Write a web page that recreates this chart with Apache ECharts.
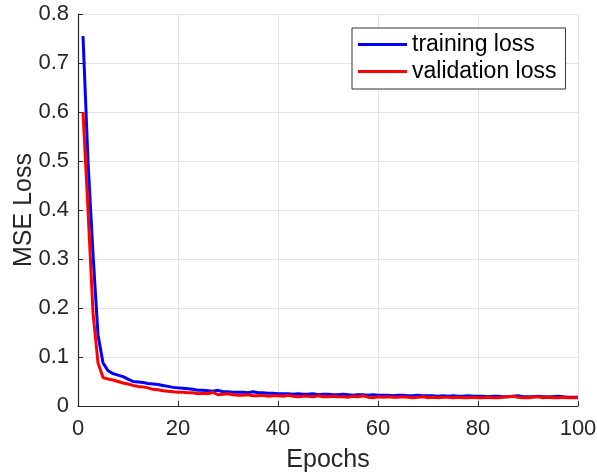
<!DOCTYPE html>
<html>
<head>
<meta charset="utf-8">
<script src="https://cdn.jsdelivr.net/npm/echarts@6/dist/echarts.min.js"></script>
<style>
  html, body { margin: 0; padding: 0; background: #fff; }
  #chart { width: 597px; height: 474px; }
</style>
</head>
<body>
<div id="chart"></div>
<script>
// values, one per epoch (1..100)
var trainLoss = [
  0.755, 0.50, 0.31, 0.145, 0.088, 0.072, 0.066, 0.063, 0.060, 0.055,
  0.050, 0.049, 0.048, 0.046, 0.045, 0.044, 0.042, 0.040, 0.038, 0.037,
  0.036, 0.035, 0.034, 0.032, 0.032, 0.031, 0.030, 0.032, 0.029, 0.029,
  0.028, 0.028, 0.028, 0.027, 0.029, 0.027, 0.027, 0.026, 0.026, 0.025,
  0.025, 0.025, 0.024, 0.025, 0.024, 0.024, 0.025, 0.023, 0.024, 0.024,
  0.023, 0.023, 0.024, 0.023, 0.022, 0.023, 0.023, 0.022, 0.023, 0.022,
  0.022, 0.022, 0.021, 0.022, 0.022, 0.021, 0.021, 0.022, 0.021, 0.021,
  0.021, 0.020, 0.021, 0.020, 0.021, 0.020, 0.020, 0.021, 0.020, 0.020,
  0.020, 0.019, 0.020, 0.020, 0.019, 0.019, 0.020, 0.021, 0.019, 0.019,
  0.019, 0.020, 0.019, 0.019, 0.019, 0.020, 0.019, 0.018, 0.018, 0.018
];
var valLoss = [
  0.60, 0.40, 0.19, 0.088, 0.058, 0.055, 0.053, 0.050, 0.047, 0.045,
  0.042, 0.040, 0.039, 0.037, 0.034, 0.033, 0.031, 0.030, 0.029, 0.028,
  0.028, 0.027, 0.027, 0.025, 0.026, 0.025, 0.028, 0.023, 0.024, 0.025,
  0.023, 0.022, 0.022, 0.023, 0.021, 0.021, 0.022, 0.020, 0.021, 0.021,
  0.020, 0.022, 0.020, 0.019, 0.020, 0.020, 0.019, 0.021, 0.019, 0.019,
  0.020, 0.019, 0.019, 0.018, 0.020, 0.019, 0.021, 0.018, 0.017, 0.019,
  0.018, 0.019, 0.018, 0.018, 0.019, 0.018, 0.017, 0.018, 0.019, 0.017,
  0.018, 0.017, 0.018, 0.018, 0.017, 0.018, 0.017, 0.017, 0.018, 0.017,
  0.017, 0.018, 0.017, 0.017, 0.018, 0.019, 0.020, 0.018, 0.017, 0.017,
  0.018, 0.019, 0.017, 0.018, 0.017, 0.017, 0.018, 0.017, 0.017, 0.017
];
var seriesNames = ['training loss', 'validation loss'];

function toPairs(arr) {
  var out = [];
  for (var i = 0; i < arr.length; i++) {
    out.push([i + 1, arr[i]]);
  }
  return out;
}

var txt = '#262626';
var font = 'Liberation Sans, Arial, Helvetica, sans-serif';

var chart = echarts.init(document.getElementById('chart'));

var option = {
  backgroundColor: '#fff',
  animation: false,
  textStyle: { fontFamily: font },
  grid: { left: 78, right: 19, top: 14, bottom: 68, containLabel: false, outerBoundsMode: 'none' },
  legend: {
    orient: 'vertical',
    left: 352,
    top: 28,
    padding: [5, 9, 6, 6],
    itemGap: 4,
    itemWidth: 49,
    itemHeight: 3,
    icon: 'rect',
    borderColor: '#333',
    borderWidth: 1,
    backgroundColor: '#fff',
    textStyle: { fontSize: 23, color: '#000', fontFamily: font },
    data: seriesNames
  },
  xAxis: {
    type: 'value',
    min: 0,
    max: 100,
    interval: 20,
    name: 'Epochs',
    nameLocation: 'middle',
    nameGap: 42,
    nameMoveOverlap: false,
    nameTextStyle: { fontSize: 25, color: txt, fontFamily: font },
    axisLine: { lineStyle: { color: txt, width: 1.2 } },
    axisTick: { inside: true, length: 5, lineStyle: { color: txt } },
    axisLabel: { fontSize: 22, color: txt, margin: 12, fontFamily: font },
    splitLine: { show: true, lineStyle: { color: '#e3e3e3', width: 1 } }
  },
  yAxis: {
    type: 'value',
    min: 0,
    max: 0.8,
    interval: 0.1,
    name: 'MSE Loss',
    nameLocation: 'middle',
    nameGap: 41,
    nameMoveOverlap: false,
    nameTextStyle: { fontSize: 25, color: txt, fontFamily: font },
    axisLine: { show: true, lineStyle: { color: txt, width: 1.2 } },
    axisTick: { show: true, inside: true, length: 5, lineStyle: { color: txt } },
    axisLabel: { fontSize: 22, color: txt, margin: 9, fontFamily: font },
    splitLine: { show: true, lineStyle: { color: '#e3e3e3', width: 1 } }
  },
  series: [
    {
      name: seriesNames[0],
      type: 'line',
      data: toPairs(trainLoss),
      symbol: 'none',
      lineStyle: { color: '#0000ff', width: 3 },
      itemStyle: { color: '#0000ff' }
    },
    {
      name: seriesNames[1],
      type: 'line',
      data: toPairs(valLoss),
      symbol: 'none',
      lineStyle: { color: '#ff0000', width: 3 },
      itemStyle: { color: '#ff0000' }
    }
  ]
};

chart.setOption(option);
</script>
</body>
</html>
